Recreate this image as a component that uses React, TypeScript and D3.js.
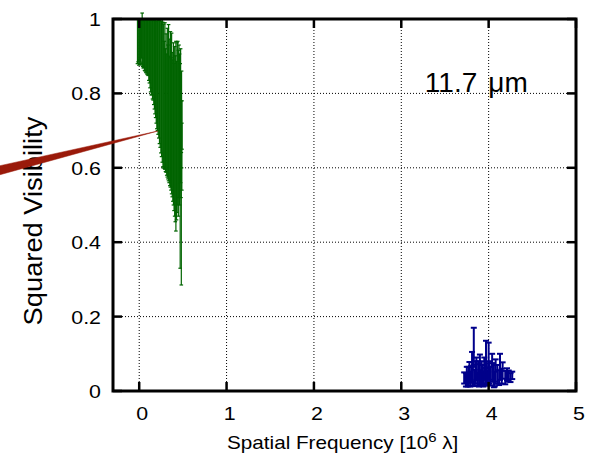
import React from 'react';
import * as d3 from 'd3';

const xTicks = [0, 1, 2, 3, 4, 5];
const xTickLabels = ['0', '1', '2', '3', '4', '5'];
const yTicks = [0, 0.2, 0.4, 0.6, 0.8, 1];
const yTickLabels = ['0', '0.2', '0.4', '0.6', '0.8', '1'];

const greenX = [
  -0.020, -0.012, -0.005, 0.002, 0.008, 0.014, 0.020, 0.026, 0.034, 0.040,
  0.047, 0.054, 0.061, 0.068, 0.075, 0.082, 0.089, 0.096, 0.103, 0.110,
  0.117, 0.124, 0.131, 0.138, 0.145, 0.152, 0.160, 0.167, 0.174, 0.181,
  0.188, 0.195, 0.202, 0.209, 0.216, 0.224, 0.232, 0.240, 0.248, 0.256,
  0.264, 0.272, 0.280, 0.287, 0.294, 0.301, 0.308, 0.315, 0.322, 0.329,
  0.336, 0.343, 0.350, 0.357, 0.364, 0.371, 0.378, 0.385, 0.392, 0.399,
  0.406, 0.413, 0.420, 0.427, 0.434, 0.441, 0.448, 0.455, 0.462, 0.469,
  0.474, 0.478, 0.482, 0.485, 0.488, 0.490,
];
const greenY = [
  0.940, 0.942, 0.938, 0.943, 0.939, 0.942, 0.940, 0.948, 0.946, 0.934,
  0.934, 0.934, 0.931, 0.928, 0.929, 0.927, 0.926, 0.924, 0.924, 0.917,
  0.914, 0.906, 0.902, 0.898, 0.898, 0.891, 0.891, 0.883, 0.879, 0.872,
  0.868, 0.857, 0.853, 0.849, 0.845, 0.838, 0.833, 0.827, 0.820, 0.812,
  0.808, 0.797, 0.793, 0.769, 0.793, 0.755, 0.774, 0.743, 0.775, 0.750,
  0.775, 0.730, 0.749, 0.757, 0.718, 0.746, 0.716, 0.700, 0.718, 0.683,
  0.698, 0.678, 0.685, 0.673, 0.708, 0.720, 0.693, 0.725, 0.703, 0.605,
  0.740, 0.650, 0.463, 0.730, 0.630, 0.715,
];
const greenErr = [
  0.060, 0.057, 0.062, 0.053, 0.061, 0.058, 0.060, 0.053, 0.070, 0.062,
  0.066, 0.064, 0.069, 0.068, 0.072, 0.072, 0.074, 0.074, 0.076, 0.082,
  0.086, 0.091, 0.098, 0.102, 0.102, 0.106, 0.109, 0.113, 0.121, 0.127,
  0.133, 0.137, 0.148, 0.149, 0.155, 0.158, 0.168, 0.172, 0.180, 0.182,
  0.193, 0.194, 0.193, 0.171, 0.197, 0.165, 0.186, 0.163, 0.200, 0.180,
  0.210, 0.170, 0.197, 0.209, 0.178, 0.216, 0.194, 0.190, 0.218, 0.198,
  0.228, 0.223, 0.255, 0.213, 0.228, 0.220, 0.223, 0.205, 0.203, 0.275,
  0.180, 0.130, 0.178, 0.130, 0.090, 0.065,
];

const blueX = [
  3.72, 3.74, 3.75, 3.76, 3.77, 3.78, 3.79, 3.80, 3.81, 3.82,
  3.83, 3.84, 3.85, 3.86, 3.87, 3.88, 3.89, 3.90, 3.91, 3.92,
  3.93, 3.94, 3.95, 3.96, 3.97, 3.98, 3.99, 4.00, 4.01, 4.02,
  4.04, 4.05, 4.06, 4.07, 4.08, 4.10, 4.12, 4.13, 4.15, 4.16,
  4.19, 4.21, 4.23, 4.25, 4.27,
];
const blueY = [
  0.035, 0.030, 0.045, 0.028, 0.040, 0.050, 0.032, 0.045, 0.065, 0.040,
  0.120, 0.035, 0.050, 0.060, 0.032, 0.055, 0.042, 0.070, 0.036, 0.050,
  0.045, 0.032, 0.060, 0.040, 0.090, 0.045, 0.035, 0.080, 0.050, 0.040,
  0.065, 0.050, 0.040, 0.032, 0.055, 0.045, 0.036, 0.065, 0.040, 0.055,
  0.036, 0.045, 0.040, 0.036, 0.042,
];
const blueErr = [
  0.015, 0.018, 0.020, 0.016, 0.025, 0.028, 0.020, 0.022, 0.040, 0.025,
  0.050, 0.022, 0.030, 0.030, 0.018, 0.025, 0.030, 0.028, 0.020, 0.030,
  0.025, 0.020, 0.030, 0.022, 0.045, 0.030, 0.020, 0.050, 0.030, 0.025,
  0.035, 0.025, 0.030, 0.020, 0.030, 0.025, 0.020, 0.035, 0.020, 0.022,
  0.018, 0.016, 0.015, 0.012, 0.010,
];

const wedgeX = [0.215, -1.8, -1.8];
const wedgeY = [0.699, 0.595, 0.568];

const annotationNumber = '11.7';
const annotationUnit = 'μm';
const annotationX = 3.27;
const annotationY = 0.805;

const W = 595;
const H = 461;
const FONT = '"Liberation Sans", Arial, Helvetica, sans-serif';

function ErrorBars({ xs, ys, es, x, y, color, width, cap }: any) {
  return (
    <g stroke={color} strokeWidth={width} fill="none">
      {xs.map((xv: number, i: number) => {
        const px = x(xv);
        const y1 = y(ys[i] - es[i]);
        const y2 = y(ys[i] + es[i]);
        return (
          <g key={i}>
            <line x1={px} x2={px} y1={y1} y2={y2} />
            <line x1={px - cap} x2={px + cap} y1={y1} y2={y1} />
            <line x1={px - cap} x2={px + cap} y1={y2} y2={y2} />
          </g>
        );
      })}
    </g>
  );
}

export default function App() {
  const x = d3.scaleLinear().domain([-0.3, 5]).range([113, 576]);
  const y = d3.scaleLinear().domain([0, 1]).range([391, 19]);
  const [x0, x1] = x.range();
  const [y0, y1] = y.range();
  const tickLen = 9;
  const sx = 1.15;

  const wedgePts = wedgeX.map((v, i) => [x(v), y(wedgeY[i])] as [number, number]);
  const wedgePath = d3.line()(wedgePts) + 'Z';

  return (
    <svg width={W} height={H} style={{ position: 'absolute', left: 0, top: 0, background: '#fff' }}
      fontFamily={FONT}>
      <rect x={0} y={0} width={W} height={H} fill="#fff" />
      {/* grid */}
      <g stroke="#000" strokeWidth={1} strokeDasharray="1,2">
        {xTicks.filter(t => t > -0.3 && t < 5).map(t => (
          <line key={'gx' + t} x1={x(t)} x2={x(t)} y1={y0} y2={y1} />
        ))}
        {yTicks.filter(t => t > 0 && t < 1).map(t => (
          <line key={'gy' + t} x1={x0} x2={x1} y1={y(t)} y2={y(t)} />
        ))}
      </g>
      {/* data */}
      <ErrorBars xs={greenX} ys={greenY} es={greenErr} x={x} y={y} color="#006400" width={1.2} cap={1.8} />
      <ErrorBars xs={blueX} ys={blueY} es={blueErr} x={x} y={y} color="#00008b" width={2} cap={3} />
      {/* ticks */}
      <g stroke="#000" strokeWidth={2.5}>
        {xTicks.map(t => (
          <g key={'tx' + t}>
            <line x1={x(t)} x2={x(t)} y1={y0} y2={y0 - tickLen} />
            <line x1={x(t)} x2={x(t)} y1={y1} y2={y1 + tickLen} />
          </g>
        ))}
        {yTicks.map(t => (
          <g key={'ty' + t}>
            <line x1={x0} x2={x0 + tickLen} y1={y(t)} y2={y(t)} />
            <line x1={x1} x2={x1 - tickLen} y1={y(t)} y2={y(t)} />
          </g>
        ))}
      </g>
      {/* border */}
      <rect x={x0} y={y1} width={x1 - x0} height={y0 - y1} fill="none" stroke="#000" strokeWidth={3} />
      {/* tick labels */}
      <g fontSize={18.6} fill="#000">
        {yTicks.map((t, i) => (
          <text key={'ly' + t} transform={`translate(${x0 - 12},${y(t) + 7}) scale(${sx},1)`} textAnchor="end">
            {yTickLabels[i]}
          </text>
        ))}
        {xTicks.map((t, i) => (
          <text key={'lx' + t} transform={`translate(${x(t) + 3},${y0 + 29}) scale(${sx},1)`} textAnchor="middle">
            {xTickLabels[i]}
          </text>
        ))}
      </g>
      {/* axis labels */}
      <text transform={`translate(227,449) scale(${sx},1)`} fontSize={18} fill="#000">
        Spatial Frequency [10<tspan fontSize={13} dy={-7}>6</tspan><tspan dy={7}> λ]</tspan>
      </text>
      <text transform={`translate(42,221) rotate(-90) scale(1.03,1)`} fontSize={26.5} textAnchor="middle" fill="#000">
        Squared Visibility
      </text>
      {/* annotation */}
      <text x={x(annotationX)} y={y(annotationY)} fontSize={28} fill="#000">
        {annotationNumber}<tspan dx={11}>{annotationUnit}</tspan>
      </text>
      {/* red wedge */}
      <path d={wedgePath} fill="#9a1a0a" stroke="#9a1a0a" strokeWidth={0.5} />
    </svg>
  );
}
